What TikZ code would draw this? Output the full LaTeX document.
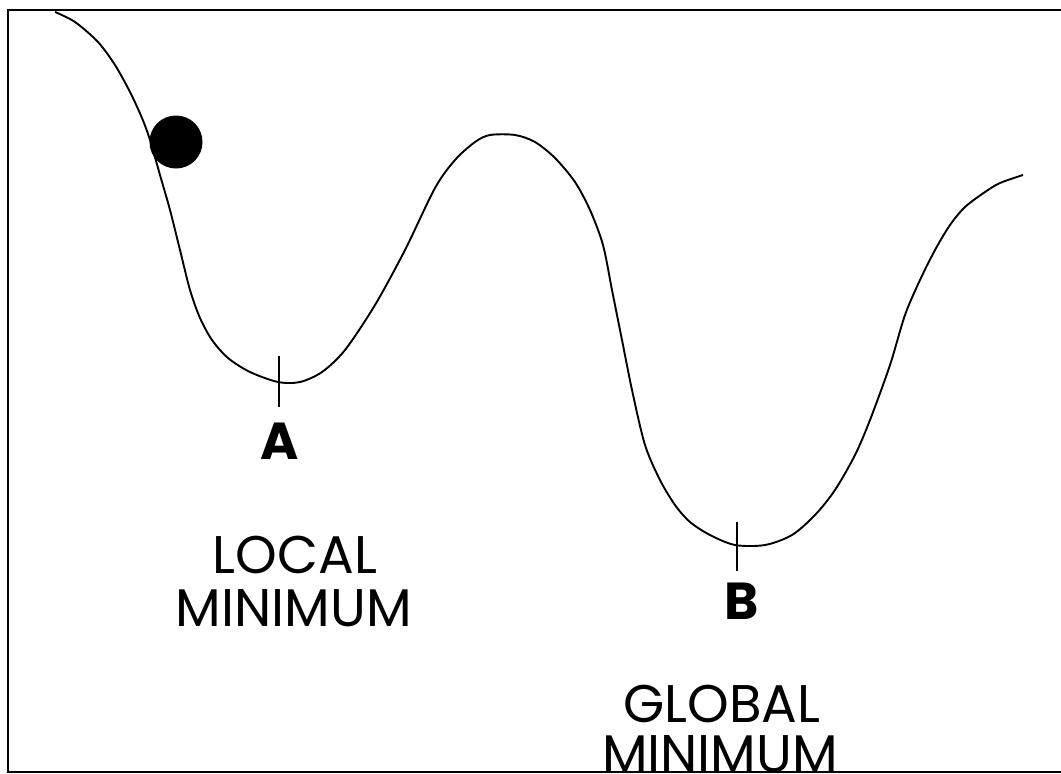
\documentclass[tikz,border=0pt]{standalone}
\usepackage{fontspec}
\setmainfont{Poppins}
\begin{document}
\begin{tikzpicture}[x=1pt,y=-1pt,
  curve/.style={line width=1.9pt,line join=round},
  tick/.style={line width=1.6pt},
  frame/.style={line width=2.6pt},
  lbl/.style={font=\fontsize{53}{53}\selectfont,inner sep=0pt,anchor=base},
  ptlbl/.style={font=\fontsize{52}{52}\selectfont\bfseries,inner sep=0pt,anchor=base}]
\useasboundingbox (0,0) rectangle (1061,774);
\clip (0,0) rectangle (1061,774);
\draw[frame] (8,10) rectangle (1075,772);
\draw[curve] plot[smooth,tension=0.5] coordinates {
(55,12) (75,22) (98,42) (115,65) (130,92) (142,118) (150,140) (160,175) (170,210)
(180,250) (190,290) (200,318) (212,340) (228,358) (250,372) (278,382) (300,382)
(322,372) (345,350) (375,305) (405,250) (435,188) (455,160) (475,142) (490,135)
(515,135) (535,142) (555,158) (575,182) (590,210) (603,245) (612,290) (622,340)
(632,390) (645,445) (660,480) (675,505) (690,522) (710,535) (735,545) (765,545)
(792,535) (815,515) (835,490) (855,455) (870,420) (890,365) (905,315) (920,280)
(935,250) (950,225) (965,207) (985,192) (1000,183) (1023,175)};
\node[circle,fill=black,minimum size=53pt,inner sep=0pt] (ball) at (176,142) {};
\coordinate (a1) at (279,356); \coordinate (a2) at (279,407);
\coordinate (b1) at (737,522); \coordinate (b2) at (737,571);
\draw[tick] (a1) -- (a2);
\draw[tick] (b1) -- (b2);
\node[ptlbl] (A) at (280,459) {A};
\node[ptlbl] (B) at (742,619) {B};
\node[lbl] (local) at (295,573) {LOCAL};
\node[lbl] (minA) at (294,626) {MINIMUM};
\node[lbl] (global) at (722,722) {GLOBAL};
\node[lbl] (minB) at (720,772) {MINIMUM};
\end{tikzpicture}
\end{document}
